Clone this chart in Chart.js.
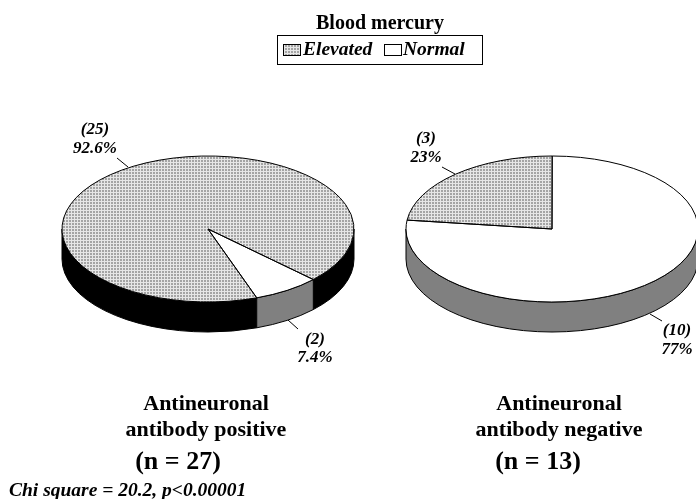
<!DOCTYPE html>
<html><head><meta charset="utf-8">
<style>html,body{margin:0;padding:0;background:#fff;overflow:hidden;width:696px;height:499px}
canvas{position:absolute;left:0;top:0}</style>
<script src="https://cdn.jsdelivr.net/npm/chart.js@4"></script></head>
<body><canvas id="a" width="696" height="499"></canvas><canvas id="b" width="698" height="499"></canvas>
<script>
const categories=['Elevated','Normal'];
const positiveValues=[25,2];
const negativeValues=[3,10];
const positiveLabels=[['(25)','92.6%'],['(2)','7.4%']];
const negativeLabels=[['(3)','23%'],['(10)','77%']];
const legendTitle='Blood mercury';
const SERIF='"Liberation Serif"';
function dither(h){
  const c=document.createElement('canvas');c.width=3;c.height=3*h;const x=c.getContext('2d');
  x.fillStyle='#e6e6e6';x.fillRect(0,0,3,3*h);
  x.fillStyle='#a4a4a4';x.fillRect(0,0,2,2*h);
  return x.createPattern(c,'repeat');
}
const pat=dither(2);
const pat1=dither(1);
const SQUASH=0.5;
function pie3d(depth,wallColors){return{
  id:'pie3d',
  beforeDatasetsDraw(ch){
    const ctx=ch.ctx,arcs=ch.getDatasetMeta(0).data;
    const {x:cx,y:cy,outerRadius:r}=arcs[0];const ry=r*SQUASH;
    arcs.forEach((a,i)=>{
      const s=a.startAngle,e=a.endAngle;
      for(let k=-1;k<=1;k++){
        const lo=Math.max(s,k*2*Math.PI),hi=Math.min(e,k*2*Math.PI+Math.PI);
        if(hi<=lo)continue;
        ctx.beginPath();
        ctx.ellipse(cx,cy,r,ry,0,lo,hi);
        ctx.ellipse(cx,cy+depth,r,ry,0,hi,lo,true);
        ctx.closePath();
        ctx.fillStyle=wallColors[i];ctx.fill();
        ctx.strokeStyle='#000';ctx.lineWidth=1;ctx.stroke();
      }
    });
    ctx.save();
    ctx.imageSmoothingEnabled=false;
    ctx.translate(cx,cy);ctx.scale(1,SQUASH);ctx.translate(-cx,-cy);
  },
  afterDatasetsDraw(ch){
    const ctx=ch.ctx,arcs=ch.getDatasetMeta(0).data;
    ctx.restore();
    const {x:cx,y:cy,outerRadius:r}=arcs[0];const ry=r*SQUASH;
    ctx.strokeStyle='#000';ctx.lineWidth=1;
    arcs.forEach(a=>{
      ctx.beginPath();ctx.moveTo(cx,cy);
      ctx.ellipse(cx,cy,r,ry,0,a.startAngle,a.endAngle);
      ctx.closePath();ctx.stroke();
    });
  }};}
function text(ctx,s,x,y,font,align){ctx.font=font;ctx.textAlign=align||'center';ctx.textBaseline='middle';ctx.fillStyle='#000';ctx.fillText(s,x,y);}
function labelsPlugin(lines,labelPos,extra){return{id:'notes',afterDraw(ch){
  const ctx=ch.ctx;ctx.save();
  ctx.strokeStyle='#000';ctx.lineWidth=1;
  lines.forEach(l=>{ctx.beginPath();ctx.moveTo(l[0],l[1]);ctx.lineTo(l[2],l[3]);ctx.stroke();});
  labelPos.forEach(p=>{text(ctx,p.t[0],p.x,p.y1,'italic bold 17px '+SERIF);text(ctx,p.t[1],p.x,p.y2,'italic bold 17px '+SERIF);});
  if(extra)extra(ctx);
  ctx.restore();}};}
function makePie(id,values,rotation,padding,colors,wall,plugin){
  return new Chart(document.getElementById(id),{type:'pie',
    data:{labels:categories,datasets:[{data:values,backgroundColor:colors,borderWidth:0}]},
    options:{responsive:false,animation:false,rotation,layout:{padding},
      plugins:{legend:{display:false},tooltip:{enabled:false},title:{display:false}}},
    plugins:[pie3d(30,wall),plugin]});
}
makePie('a',positiveValues,160.5,{left:62,right:342,top:83,bottom:124},[pat,'#fff'],['#000','#808080'],
 labelsPlugin([[117,158,128,167],[288,320,298,329]],
  [{t:positiveLabels[0],x:95,y1:130,y2:149},{t:positiveLabels[1],x:315,y1:340,y2:358}],
  ctx=>{
    text(ctx,legendTitle,380,24,'bold 20px '+SERIF);
    ctx.strokeStyle='#000';ctx.lineWidth=1;ctx.strokeRect(277.5,35.5,205,29);
    ctx.imageSmoothingEnabled=false;
    ctx.fillStyle=pat1;ctx.fillRect(283,44,18,12);ctx.strokeRect(283.5,44.5,17,11);
    text(ctx,categories[0],303,50,'italic bold 19.5px '+SERIF,'left');
    ctx.fillStyle='#fff';ctx.fillRect(384,44,18,12);ctx.strokeRect(384.5,44.5,17,11);
    text(ctx,categories[1],403,50,'italic bold 19.5px '+SERIF,'left');
    text(ctx,'Antineuronal',206,404,'bold 22px '+SERIF);
    text(ctx,'antibody positive',206,430,'bold 22px '+SERIF);
    text(ctx,'(n = 27)',178,462,'bold 26px '+SERIF);
    text(ctx,'Antineuronal',559,404,'bold 22px '+SERIF);
    text(ctx,'antibody negative',559,430,'bold 22px '+SERIF);
    text(ctx,'(n = 13)',538,462,'bold 26px '+SERIF);
    text(ctx,'Chi square = 20.2, p<0.00001',9,491,'italic bold 19.5px '+SERIF,'left');
  }));
makePie('b',negativeValues,-83,{left:406,right:0,top:83,bottom:124},[pat,'#fff'],['#000','#808080'],
 labelsPlugin([[442,167,455,174],[650,314,662,321]],
  [{t:negativeLabels[0],x:426,y1:139,y2:158},{t:negativeLabels[1],x:677,y1:331,y2:350}]));
</script></body></html>
